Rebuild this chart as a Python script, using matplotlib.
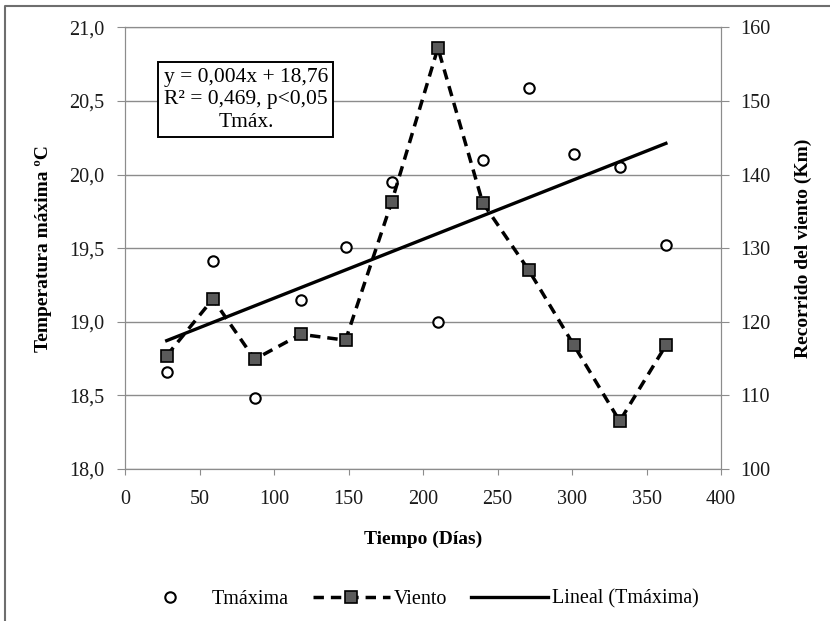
import numpy as np
import matplotlib
matplotlib.use("Agg")
from matplotlib import pyplot as plt
from matplotlib.ticker import FuncFormatter
from matplotlib.lines import Line2D

## data
dias = [28, 59, 87, 118, 148, 179, 210, 240, 271, 301, 332, 363]
tmaxima = [18.66, 19.41, 18.48, 19.15, 19.51, 19.95, 19.00, 20.10, 20.59, 20.14, 20.05, 19.52]
viento = [115.4, 123.1, 114.9, 118.3, 117.5, 136.3, 157.2, 136.2, 127.0, 116.9, 106.5, 116.8]
trend_slope = 0.004
trend_intercept = 18.76

plt.rcParams['font.family'] = ['Liberation Serif', 'DejaVu Serif']
grey = '#8c8c8c'

fig = plt.figure(figsize=(8.3, 6.21), dpi=100)
# outer frame (only top and left visible in the original crop)
fig.lines.append(Line2D([0.006, 0.006, 1.0], [0.0, 0.991, 0.991], transform=fig.transFigure,
                        color='#6e6e6e', lw=1.5))
ax = fig.add_axes([0.1506, 0.2448, 0.7181, 0.7111])
ax2 = ax.twinx()

# Tmaxima points + linear trend
ax.plot(dias, tmaxima, 'o', markersize=7.5, markerfacecolor='white',
        markeredgecolor='black', markeredgewidth=1.5, label='Tmáxima', zorder=3)
xs = np.array([dias[0], dias[-1]])
ax.plot(xs, trend_slope * xs + trend_intercept, '-', color='black', lw=2.4,
        label='Lineal (Tmáxima)', zorder=3)

# wind on right axis
ax2.plot(dias, viento, '--', color='black', lw=2.5, dashes=(3, 2),
         marker='s', markersize=8, markerfacecolor='#5a5a5a',
         markeredgecolor='black', markeredgewidth=1.2, label='Viento')

ax.set_xlim(0, 400)
ax.set_ylim(18.0, 21.0)
ax2.set_ylim(100, 160)
ax.set_xticks(range(0, 401, 50))
ax.set_yticks(np.arange(18.0, 21.01, 0.5))
ax2.set_yticks(range(100, 161, 10))
ax.yaxis.set_major_formatter(FuncFormatter(lambda v, p: ('%.1f' % v).replace('.', ',')))
ax.grid(axis='y', color=grey, lw=1)
ax.set_axisbelow(True)

for a in (ax, ax2):
    for s in a.spines.values():
        s.set_color(grey)
    a.tick_params(colors=grey, labelcolor='#1a1a1a', labelsize=14.5)
ax.tick_params(axis='x', length=4, pad=11)
ax.tick_params(axis='y', length=6, pad=9)
ax2.tick_params(axis='y', length=6, pad=8)

ax.set_xlabel('Tiempo (Días)', fontsize=14, fontweight='bold', labelpad=16)
ax.set_ylabel('Temperatura máxima ºC', fontsize=14, fontweight='bold', labelpad=12)
ax2.set_ylabel('Recorrido del viento (Km)', fontsize=14, fontweight='bold', labelpad=17)

ax.text(0.203, 0.836, 'y = 0,004x + 18,76\nR² = 0,469, p<0,05\nTmáx.',
        transform=ax.transAxes, ha='center', va='center', fontsize=15.5,
        linespacing=1.25, zorder=5,
        bbox=dict(boxstyle='square,pad=0.25', facecolor='white', edgecolor='black', lw=1.4))

h1, l1 = ax.get_legend_handles_labels()
h2, l2 = ax2.get_legend_handles_labels()
handles = [h1[0], h2[0], h1[1]]
labels = [l1[0], l2[0], l1[1]]
fig.legend(handles, labels, loc='center', bbox_to_anchor=(0.5, 0.035), ncol=3,
           frameon=False, fontsize=14.5, handlelength=3.8, handletextpad=0.2,
           columnspacing=1.2)

fig.savefig('out.png', dpi=100)
